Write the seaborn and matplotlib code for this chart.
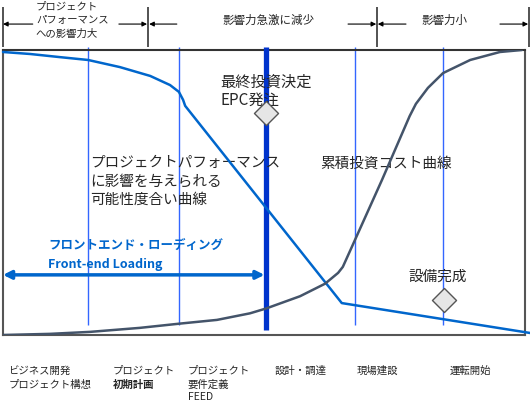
import numpy as np
import pandas as pd
import matplotlib
matplotlib.use("Agg")
import matplotlib.pyplot as plt
import seaborn as sns

sns.set_style("white")
plt.rcParams['font.family'] = ['Noto Sans CJK JP', 'DejaVu Sans']

# プロジェクトパフォーマンスに影響を与えられる可能性度合い (0-100)
infl_x = [0, 5.2, 10.9, 16.3, 22.4, 28.2, 32.0, 33.7, 34.5, 34.9, 64.9, 101.0]
infl_y = [99.3, 98.6, 97.5, 96.5, 94.0, 90.9, 87.7, 85.3, 82.5, 80.4, 11.2, 0.7]

# 累積投資コスト (0-100)
cost_x = [0, 9.0, 16.7, 26.2, 33.9, 41.0, 47.3, 50.4, 56.9, 61.7, 64.2, 65.1,
          66.9, 72.6, 77.9, 79.1, 81.4, 84.3, 89.5, 95.2, 99.4]
cost_y = [0, 0.4, 1.1, 2.5, 4.0, 5.3, 7.6, 9.3, 13.6, 18.0, 21.8, 23.9,
          31.2, 54.4, 76.8, 81.1, 86.7, 91.9, 96.5, 99.3, 100]

phase_x = [16.3, 33.7, 67.4, 84.3]
fid_x = 50.4
milestone_x = [50.4, 84.5]
milestone_y = [77.9, 12.3]
bounds_x = [0, 27.8, 71.6, 100.8]

phase_labels = [
    ["ビジネス開発", "プロジェクト構想"],
    ["プロジェクト", "初期計画"],
    ["プロジェクト", "要件定義", "FEED"],
    ["設計・調達"],
    ["現場建設"],
    ["運転開始"],
]
phase_label_x = [1.0, 21.1, 35.4, 52.1, 67.8, 85.6]

infl = pd.DataFrame({'x': infl_x, 'y': infl_y})
cost = pd.DataFrame({'x': cost_x, 'y': cost_y})

fig = plt.figure(figsize=(5.3, 4.03), dpi=100)
ax = fig.add_axes([3 / 530, 1 - 335 / 403, 522 / 530, 285 / 403])
ax.set_xlim(0, 100)
ax.set_ylim(0, 100)
ax.set_xticks([])
ax.set_yticks([])
for s in ax.spines.values():
    s.set_color('#555555')
    s.set_linewidth(1.5)
ax.spines['top'].set_color('#333333')

# 縦線
ax.vlines(phase_x, 3.5, 101.1, color='#3366ff', lw=1, clip_on=False, zorder=2)
ax.vlines(fid_x, 1.8, 101.1, color='#0033cc', lw=3.8, clip_on=False, zorder=3)

# 曲線
sns.lineplot(data=infl, x='x', y='y', ax=ax, color='#0066cc', lw=1.8,
             sort=False, clip_on=False, zorder=4)
sns.lineplot(data=cost, x='x', y='y', ax=ax, color='#44546a', lw=1.8,
             sort=False, zorder=4)
ax.set_xlabel('')
ax.set_ylabel('')

sns.scatterplot(x=milestone_x, y=milestone_y, ax=ax, marker='D', s=150,
                color='#e6e6e6', edgecolor='#555555', linewidth=1, zorder=5)

# 上部の区分
ax.vlines(bounds_x, 101.1, 115.1, color='#444444', lw=1.3, clip_on=False)
arrow_kw = dict(arrowstyle='-|>', color='black', lw=0.8, mutation_scale=7,
                shrinkA=0, shrinkB=0)
for x0, x1 in [(5.7, 0), (22.2, 27.6), (33.3, 28.0), (66.1, 71.5),
               (77.2, 71.8), (95.2, 100.6)]:
    ax.annotate('', xy=(x1, 109.1), xytext=(x0, 109.1),
                arrowprops=arrow_kw, annotation_clip=False)
for i, t in enumerate(["プロジェクト", "パフォーマンス", "への影響力大"]):
    ax.text(6.3, 115.4 - i * 4.9, t, fontsize=7.5, va='center', ha='left',
            clip_on=False)
ax.text(50.8, 110.5, "影響力急激に減少", fontsize=8.3, ha='center', va='center')
ax.text(84.5, 110.5, "影響力小", fontsize=8.3, ha='center', va='center')

# 注記
ax.text(41.6, 88.8, "最終投資決定", fontsize=11, va='center')
ax.text(41.6, 82.5, "EPC発注", fontsize=11, va='center')
for i, t in enumerate(["プロジェクトパフォーマンス", "に影響を与えられる", "可能性度合い曲線"]):
    ax.text(16.7, 60.4 - i * 6.5, t, fontsize=10.5, va='center')
ax.text(60.7, 60.0, "累積投資コスト曲線", fontsize=10.5, va='center')
ax.text(77.6, 20.4, "設備完成", fontsize=10.5, va='center')

ax.text(8.6, 31.6, "フロントエンド・ローディング", fontsize=9, color='#0066cc',
        fontweight='bold', va='center')
ax.text(8.6, 24.6, "Front-end Loading", fontsize=9, color='#0066cc',
        fontweight='bold', va='center')
ax.annotate('', xy=(0, 21.1), xytext=(fid_x - 0.3, 21.1),
            arrowprops=dict(arrowstyle='<|-|>', color='#0066cc', lw=2.5,
                            mutation_scale=12, shrinkA=0, shrinkB=0),
            zorder=4)

# 下部のフェーズ
for lx, lines in zip(phase_label_x, phase_labels):
    for j, t in enumerate(lines):
        w = 'bold' if t == "初期計画" else 'normal'
        yy = -12.6 - j * 4.9 if t != "FEED" else -21.6
        ax.text(lx, yy, t, fontsize=7.5, fontweight=w, va='center',
                clip_on=False)

fig.savefig('out.png', dpi=100)
